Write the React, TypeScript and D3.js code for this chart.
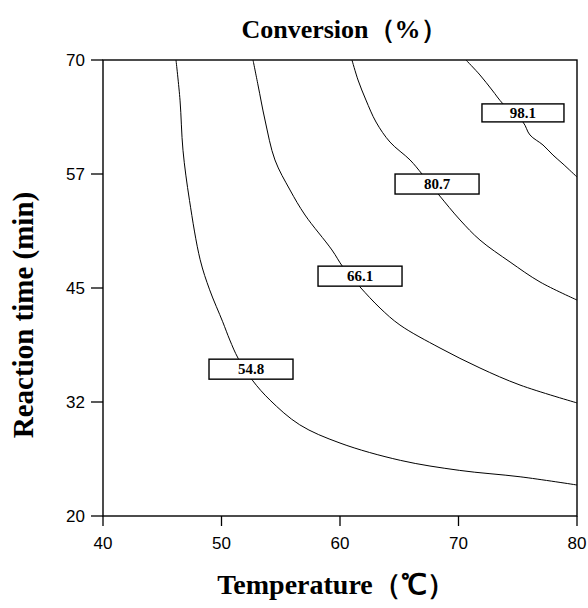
import React from "react";
import * as d3 from "d3";

const xTicks = [40, 50, 60, 70, 80];
const yTicks = [20, 32.5, 45, 57.5, 70];
const yTickLabels = ["20", "32", "45", "57", "70"];

const levels = ["54.8", "66.1", "80.7", "98.1"];

const contour548: [number, number][] = [
  [46.16, 70], [46.5, 65.6], [46.75, 60.1], [47.3, 54.6], [48.2, 48.1], [49.0, 44.8],
  [50.1, 41.3], [50.7, 39.3], [51.4, 37.3], [52.6, 34.9], [54.1, 32.7], [56.6, 30.0],
  [60.0, 28.0], [65.1, 26.1], [70.1, 25.0], [75.2, 24.3], [80, 23.4],
];
const contour661: [number, number][] = [
  [52.66, 70], [53.08, 67.26], [53.67, 63.42], [54.51, 59.04], [55.78, 55.75], [57.05, 53.0],
  [59.32, 49.17], [60.25, 47.3], [61.69, 45.11], [63.38, 42.8], [65.06, 40.94], [68.44, 38.42],
  [71.81, 36.23], [75.19, 34.36], [80, 32.4],
];
const contour807: [number, number][] = [
  [61.01, 70], [61.52, 67.81], [62.19, 65.61], [63.04, 63.2], [64.22, 61.0], [65.91, 59.04],
  [66.92, 57.5], [68.35, 55.2], [70.13, 52.46], [71.81, 50.26], [74.35, 47.85], [76.88, 45.66],
  [80, 43.68],
];
const contour981: [number, number][] = [
  [70.63, 70], [71.81, 68.36], [72.83, 66.71], [73.76, 65.18], [75.44, 63.2], [76.03, 61.78],
  [77.13, 60.68], [77.97, 59.58], [78.82, 58.6], [80, 57.17],
];
const contours = [contour548, contour661, contour807, contour981];

// label anchor positions in data units (temperature, time)
const labelT = [52.49, 61.69, 68.19, 75.44];
const labelTime = [36.1, 46.3, 56.4, 64.2];

export default function App() {
  const W = 588, H = 608;
  const left = 103, right = 577, top = 60, bottom = 516;
  const x = d3.scaleLinear().domain([40, 80]).range([left, right]);
  const y = d3.scaleLinear().domain([20, 70]).range([bottom, top]);
  const line = d3
    .line<[number, number]>()
    .x((d) => x(d[0]))
    .y((d) => y(d[1]))
    .curve(d3.curveCatmullRom.alpha(0.5));

  const serif = "'Liberation Serif', 'Times New Roman', serif";
  const sans = "'Liberation Sans', Arial, sans-serif";

  return (
    <svg width={W} height={H} style={{ position: "absolute", left: 0, top: 0, background: "#fff" }}>
      <rect x={0} y={0} width={W} height={H} fill="#fff" />
      <g>
        {contours.map((c, i) => (
          <path key={i} d={line(c) || ""} fill="none" stroke="#000" strokeWidth={1} />
        ))}
      </g>
      <g>
        {levels.map((lv, i) => {
          const cx = x(labelT[i]);
          const cy = y(labelTime[i]);
          const bw = i === 3 ? 82 : 84;
          const bh = i === 3 ? 18 : 20;
          return (
            <g key={lv}>
              <rect x={cx - bw / 2} y={cy - bh / 2} width={bw} height={bh} fill="#fff" stroke="#000" strokeWidth={1.4} />
              <text x={cx} y={cy + 5} textAnchor="middle" fontFamily={serif} fontWeight="bold" fontSize={15}>
                {lv}
              </text>
            </g>
          );
        })}
      </g>
      <rect x={left} y={top} width={right - left} height={bottom - top} fill="none" stroke="#000" strokeWidth={1.4} />
      <g>
        {yTicks.map((t, i) => (
          <g key={t}>
            <line x1={left - 12} x2={left} y1={y(t)} y2={y(t)} stroke="#000" strokeWidth={1.3} />
            <text x={left - 18} y={y(t) + 6} textAnchor="end" fontFamily={sans} fontSize={17}>
              {yTickLabels[i]}
            </text>
          </g>
        ))}
        {xTicks.map((t) => (
          <g key={t}>
            <line x1={x(t)} x2={x(t)} y1={bottom} y2={bottom + 10} stroke="#000" strokeWidth={1.3} />
            <text x={x(t)} y={bottom + 33} textAnchor="middle" fontFamily={sans} fontSize={17}>
              {t}
            </text>
          </g>
        ))}
      </g>
      <text x={344} y={38} textAnchor="middle" fontFamily={serif} fontWeight="bold" fontSize={26}>
        Conversion（%）
      </text>
      <text x={336} y={594} textAnchor="middle" fontFamily={serif} fontWeight="bold" fontSize={28}>
        Temperature（℃）
      </text>
      <text
        transform={`translate(33, 315) rotate(-90)`}
        textAnchor="middle"
        fontFamily={serif}
        fontWeight="bold"
        fontSize={29}
      >
        Reaction time (min)
      </text>
    </svg>
  );
}
